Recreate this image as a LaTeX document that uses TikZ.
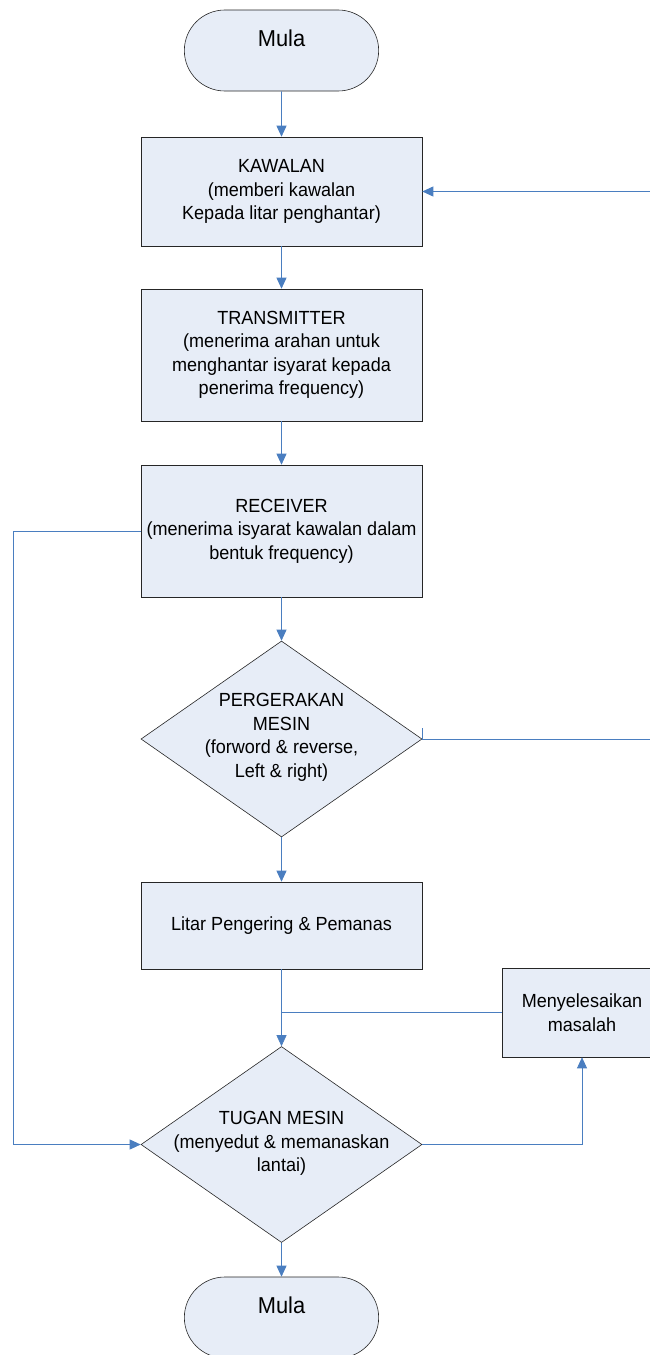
\documentclass[tikz,border=0pt]{standalone}
\usepackage{fontspec}
\setmainfont[FakeStretch=0.95]{Liberation Sans}
\usetikzlibrary{arrows.meta,shapes.geometric,shapes.misc}
\definecolor{boxfill}{RGB}{231,237,247}
\definecolor{flowblue}{RGB}{74,126,192}

\begin{document}
\begin{tikzpicture}[x=1pt,y=-1pt,
  font=\fontsize{19}{23.5}\selectfont,
  proses/.style={draw=black!85,line width=0.6pt,fill=boxfill,minimum width=281pt,align=center,inner sep=0pt},
  keputusan/.style={diamond,draw=black!85,line width=0.6pt,fill=boxfill,minimum width=281pt,minimum height=196pt,inner sep=0pt},
  terminal/.style={rounded rectangle,draw=black!85,line width=0.6pt,fill=boxfill,minimum width=201pt,minimum height=81pt,
    font=\fontsize{23}{26}\selectfont,text height=17pt,text depth=25pt},
  teks/.style={align=center,inner sep=0pt},
  flow/.style={draw=flowblue,line width=0.75pt,-{Triangle[length=11pt,width=10pt]}},
  garis/.style={draw=flowblue,line width=0.75pt}]
\useasboundingbox (0,0) rectangle (649,1355);

% main column
\node[terminal] (mula1) at (281.5,50.5) {Mula};
\node[proses,minimum height=109pt] (kawalan) at (281.5,191.5) {KAWALAN\\(memberi kawalan\\Kepada litar penghantar)};
\node[proses,minimum height=132pt] (trans) at (281.5,355) {TRANSMITTER\\(menerima arahan untuk\\menghantar isyarat kepada\\penerima frequency)};
\node[proses,minimum height=132pt] (recv) at (281.5,531) {RECEIVER\\(menerima isyarat kawalan dalam\\bentuk frequency)};
\node[keputusan] (gerak) at (281.5,739) {};
\node[teks] (gerak-t) at (281.5,737.5) {PERGERAKAN\\MESIN\\(forword \& reverse,\\Left \& right)};
\node[proses,minimum height=87pt] (litar) at (281.5,925.5) {Litar Pengering \& Pemanas};
\node[keputusan] (tugas) at (281.5,1144.5) {};
\node[teks] (tugas-t) at (281.5,1143.5) {TUGAN MESIN\\(menyedut \& memanaskan\\lantai)};
\node[terminal] (mula2) at (281.5,1317.5) {Mula};

% side box
\node[proses,minimum width=160pt,minimum height=89pt] (selesai) at (582,1012.5) {Menyelesaikan\\masalah};

\foreach \a/\b in {mula1/kawalan,kawalan/trans,trans/recv,recv/gerak,gerak/litar,litar/tugas,tugas/mula2}
  \draw[flow] (\a) -- (\b);

% feedback lines
\draw[flow] ([yshift=11pt]gerak.east) -- (gerak.east) -- (650,739) |- (kawalan.east);
\draw[flow] (recv.west) -- (13,531) |- (tugas.west);
\draw[flow] (tugas.east) -| (selesai.south);
\draw[garis] (selesai.west) -- (selesai.west -| litar.south);
\end{tikzpicture}
\end{document}
